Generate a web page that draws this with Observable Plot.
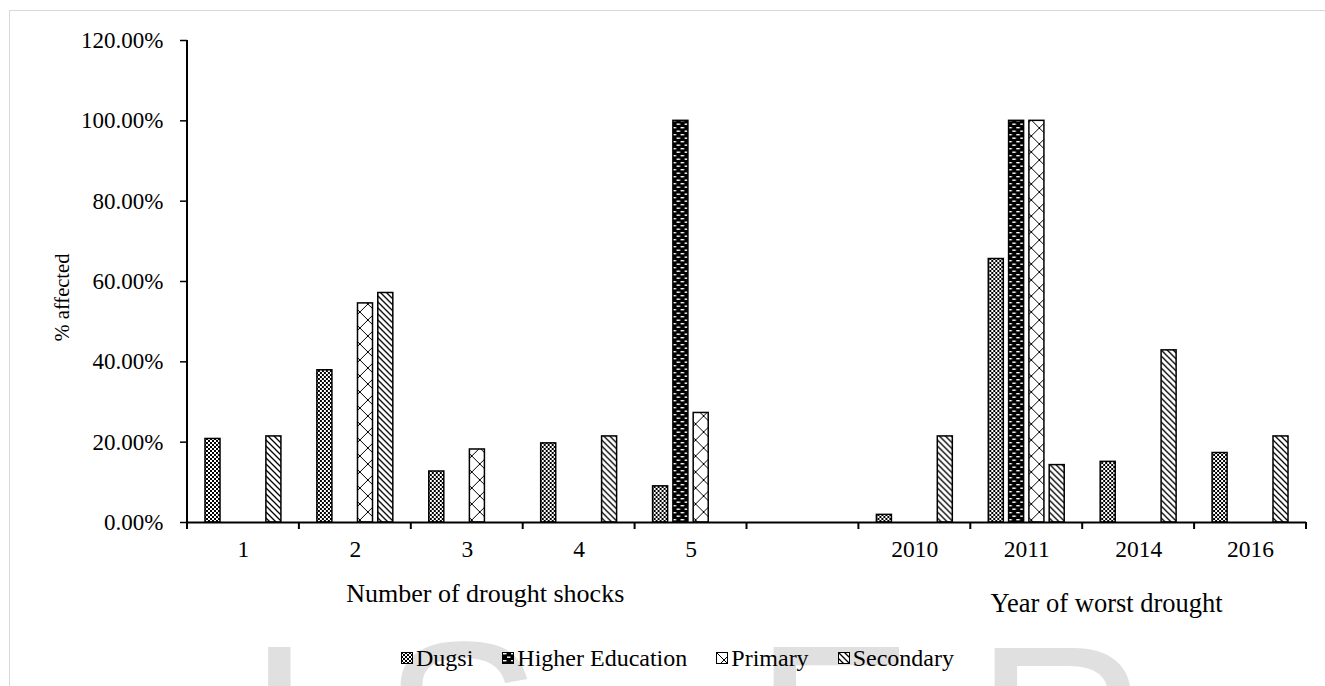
<!DOCTYPE html>
<html>
<head>
<meta charset="utf-8">
<script src="https://cdn.jsdelivr.net/npm/d3@7"></script>
<script src="https://cdn.jsdelivr.net/npm/@observablehq/plot@0.6"></script>
<style>
  html, body { margin: 0; padding: 0; background: #fff; }
  body {
    width: 1325px; height: 686px; overflow: hidden; position: relative;
    font-family: "Liberation Serif", "Times New Roman", serif; color: #000;
  }
  #border {
    position: absolute; left: 9px; top: 10px; right: -2px; bottom: -2px;
    border-top: 1px solid #d9d9d9; border-left: 1px solid #d9d9d9;
  }
  .wm {
    position: absolute; font-family: "Liberation Sans", Arial, sans-serif;
    font-size: 240px; line-height: 1; color: #e0e0e0; white-space: nowrap;
  }
  #chart { position: absolute; left: 0; top: 0; }
  #legend {
    position: absolute; left: 401px; top: 640px; height: 36px;
    display: flex; align-items: center; gap: 29px; font-size: 24px;
  }
  #legend .item { display: flex; align-items: center; gap: 3px; }
  #legend svg { display: block; }
</style>
</head>
<body>
<!-- shared fill patterns for the bars and the legend swatches -->
<svg width="0" height="0" style="position:absolute">
  <defs>
    <pattern id="pat-dugsi" patternUnits="userSpaceOnUse" width="4" height="4">
      <rect width="4" height="4" fill="#fff"/>
      <rect x="0" y="0" width="2" height="2" fill="#000"/>
      <rect x="2" y="2" width="2" height="2" fill="#000"/>
    </pattern>
    <pattern id="pat-higher" patternUnits="userSpaceOnUse" width="8" height="7">
      <rect width="8" height="7" fill="#000"/>
      <rect x="1" y="1" width="3.5" height="1.4" fill="#fff"/>
      <rect x="5" y="4.5" width="3" height="1.4" fill="#fff"/>
      <rect x="0" y="4.5" width="0.5" height="1.4" fill="#fff"/>
    </pattern>
    <pattern id="pat-primary" patternUnits="userSpaceOnUse" width="16" height="16">
      <rect width="16" height="16" fill="#fff"/>
      <path d="M0,0L16,16M16,0L0,16" stroke="#000" stroke-width="1"/>
    </pattern>
    <pattern id="pat-secondary" patternUnits="userSpaceOnUse" width="6" height="6">
      <rect width="6" height="6" fill="#fff"/>
      <path d="M-1,-1L7,7M-1,5L1,7M5,-1L7,1" stroke="#000" stroke-width="1.3"/>
    </pattern>
  </defs>
</svg>

<div id="border"></div>
<div class="wm" style="left:246px; top:609px;">I</div>
<div class="wm" style="left:382px; top:606px;">S</div>
<div class="wm" style="left:754px; top:609px;">E</div>
<div class="wm" style="left:975px; top:609px;">R</div>

<div id="chart"></div>
<div id="legend"></div>

<script>
// Categories along the axis; the blank entry separates the two groups
const categories = ["1", "2", "3", "4", "5", " ", "2010", "2011", "2014", "2016"];
const series = ["Dugsi", "Higher Education", "Primary", "Secondary"];

// Share of respondents affected, per education level
const dugsi           = [0.208, 0.379, 0.127, 0.197, 0.090, null, 0.019, 0.656, 0.151, 0.173];
const higherEducation = [0,     0,     0,     0,     1.000, null, 0,     1.000, 0,     0    ];
const primary         = [0,     0.5455, 0.1818, 0,   0.2727, null, 0,    1.000, 0,     0    ];
const secondary       = [0.2143, 0.5714, 0,   0.2143, 0,    null, 0.2143, 0.1429, 0.4286, 0.2143];

const yTicks = [0, 0.2, 0.4, 0.6, 0.8, 1.0, 1.2];
const patterns = ["url(#pat-dugsi)", "url(#pat-higher)", "url(#pat-primary)", "url(#pat-secondary)"];
const groupTitles = ["Number of drought shocks", "Year of worst drought"];
const yTitle = "% affected";

const seriesValues = [dugsi, higherEducation, primary, secondary];
const rows = [];
series.forEach((name, s) => {
  categories.forEach((category, i) => {
    const value = seriesValues[s][i];
    if (value > 0) rows.push({category, series: name, value});
  });
});

const serif = "'Liberation Serif', 'Times New Roman', serif";
const width = 1325, height = 630;
const marginLeft = 187, marginRight = 19, marginTop = 40, marginBottom = 108;

const chart = Plot.plot({
  width, height, marginLeft, marginRight, marginTop, marginBottom,
  style: {fontFamily: serif, color: "#000", background: "transparent", overflow: "visible"},
  fx: {domain: categories, padding: 0, round: false, label: null},
  x: {domain: series, paddingInner: 0.26, paddingOuter: 0.886, round: false, axis: null},
  y: {domain: [0, 1.2], label: null},
  marks: [
    ...series.map((name, s) =>
      Plot.barY(rows.filter(d => d.series === name), {
        fx: "category", x: "series", y: "value",
        fill: patterns[s], stroke: "#000", strokeWidth: 1.5
      })
    ),
    Plot.ruleY(categories.map(c => ({category: c})), {fx: "category", y: 0, stroke: "#000", strokeWidth: 2}),
    Plot.axisY({
      ticks: yTicks, tickFormat: d => (d * 100).toFixed(2) + "%",
      tickSize: 7, tickPadding: 17, fontSize: 23, strokeWidth: 1.5, label: null
    }),
    Plot.axisFx({anchor: "bottom", tickSize: 0, tickPadding: 18, fontSize: 23.5, label: null}),
    Plot.text([{category: "1", text: yTitle}], {
      fx: "category", text: "text", frameAnchor: "left", textAnchor: "middle", rotate: -90,
      dx: -125, dy: 16, fontSize: 20.5
    }),
    Plot.text([{category: "3", text: groupTitles[0]}], {
      fx: "category", text: "text", frameAnchor: "bottom", dx: 18, dy: 79, fontSize: 26
    }),
    Plot.text([{category: "2014", text: groupTitles[1]}], {
      fx: "category", text: "text", frameAnchor: "bottom", dx: -32, dy: 89, fontSize: 26.5
    })
  ]
});
document.getElementById("chart").appendChild(chart);

// Axis line on the left and category-boundary ticks along the baseline
const fx = chart.scale("fx");
const y = chart.scale("y");
const svg = d3.select(chart);
const x0 = fx.apply(categories[0]);
const edges = categories.map(c => fx.apply(c)).concat(fx.apply(categories[categories.length - 1]) + fx.bandwidth);
svg.append("line")
  .attr("x1", x0).attr("x2", x0)
  .attr("y1", y.apply(0)).attr("y2", y.apply(1.2))
  .attr("stroke", "#000").attr("stroke-width", 2);
svg.append("g").selectAll("line").data(edges).join("line")
  .attr("x1", d => d).attr("x2", d => d)
  .attr("y1", y.apply(0)).attr("y2", y.apply(0) + 7)
  .attr("stroke", "#000").attr("stroke-width", 2);

// Legend with the same fills as the bars
const legend = d3.select("#legend");
series.forEach((name, s) => {
  const item = legend.append("div").attr("class", "item");
  const sw = item.append("svg").attr("width", 12).attr("height", 12);
  sw.append("rect").attr("x", 0.5).attr("y", 0.5).attr("width", 11).attr("height", 11)
    .attr("fill", patterns[s]).attr("stroke", "#000").attr("stroke-width", 1);
  item.append("span").text(name);
});
</script>
</body>
</html>
